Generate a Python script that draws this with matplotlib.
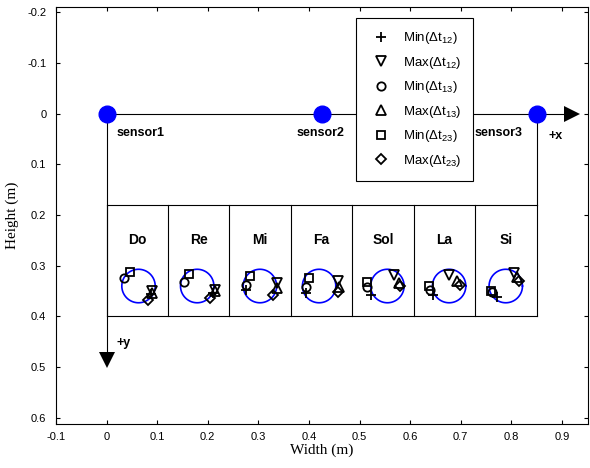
import numpy as np
import matplotlib
matplotlib.use("Agg")
import matplotlib.pyplot as plt

plt.rcParams['font.family'] = ['Liberation Sans', 'DejaVu Sans']
plt.rcParams['mathtext.fontset'] = 'custom'
plt.rcParams['mathtext.rm'] = 'Liberation Sans'
plt.rcParams['mathtext.it'] = 'Liberation Sans:italic'

# ---------------------------------------------------
# Data (metres)
# ---------------------------------------------------
sensor_x = [0.0, 0.425, 0.85]
sensor_names = ['sensor1', 'sensor2', 'sensor3']
sensor_label_x = [0.02, 0.375, 0.727]

notes = ['Do', 'Re', 'Mi', 'Fa', 'Sol', 'La', 'Si']
circle_x = [0.063, 0.179, 0.303, 0.420, 0.555, 0.677, 0.789]
circle_y = 0.34
circle_r = 0.033

# marker positions per note
min12_x = [0.087, 0.211, 0.275, 0.395, 0.523, 0.646, 0.771]
min12_y = [0.356, 0.354, 0.347, 0.354, 0.358, 0.358, 0.362]
max12_x = [0.090, 0.215, 0.337, 0.457, 0.568, 0.676, 0.805]
max12_y = [0.349, 0.347, 0.335, 0.330, 0.319, 0.319, 0.314]
min13_x = [0.034, 0.152, 0.275, 0.395, 0.515, 0.639, 0.762]
min13_y = [0.324, 0.332, 0.337, 0.341, 0.342, 0.347, 0.352]
max13_x = [0.090, 0.215, 0.337, 0.459, 0.578, 0.693, 0.812]
max13_y = [0.354, 0.350, 0.343, 0.341, 0.334, 0.330, 0.323]
min23_x = [0.047, 0.163, 0.283, 0.400, 0.515, 0.637, 0.759]
min23_y = [0.312, 0.317, 0.321, 0.325, 0.332, 0.339, 0.350]
max23_x = [0.081, 0.204, 0.329, 0.457, 0.580, 0.698, 0.815]
max23_y = [0.368, 0.364, 0.358, 0.352, 0.339, 0.337, 0.330]

box_top, box_bottom = 0.18, 0.40
note_label_y = 0.25
arrow_x_end = 0.92
arrow_y_end = 0.485

# ---------------------------------------------------
# Plot
# ---------------------------------------------------
fig = plt.figure(figsize=(5.9, 4.68), dpi=100)
ax = fig.add_axes([0.095, 0.094, 0.902, 0.891])

lc = '#000000'
# axes arrows
ax.plot([0, arrow_x_end], [0, 0], color=lc, lw=0.8)
ax.plot([arrow_x_end], [0], marker='>', color='k', ms=12, mew=0)
ax.plot([0, 0], [0, arrow_y_end], color=lc, lw=0.8)
ax.plot([0], [arrow_y_end], marker='v', color='k', ms=12, mew=0)
ax.plot([sensor_x[2], sensor_x[2]], [0, box_top], color=lc, lw=0.8)

# note boxes
cell_w = sensor_x[2] / len(notes)
ax.plot([0, sensor_x[2]], [box_top, box_top], color=lc, lw=0.8)
ax.plot([0, sensor_x[2]], [box_bottom, box_bottom], color=lc, lw=0.8)
for i in range(len(notes) + 1):
    ax.plot([i * cell_w, i * cell_w], [box_top, box_bottom], color=lc, lw=0.8)
for i, n in enumerate(notes):
    ax.text((i + 0.5) * cell_w, note_label_y, n, ha='center', va='center',
            fontsize=10, fontweight='bold')

# circles
t = np.linspace(0, 2 * np.pi, 100)
for cx in circle_x:
    ax.plot(cx + circle_r * np.cos(t), circle_y + circle_r * np.sin(t),
            color='#0000ff', lw=1.2)

# sensors
ax.plot(sensor_x, [0, 0, 0], 'o', color='#0000ff', ms=12, zorder=5)
for name, lx in zip(sensor_names, sensor_label_x):
    ax.text(lx, 0.038, name, ha='left', va='center', fontsize=9, fontweight='bold')
ax.text(0.874, 0.045, '+x', ha='left', va='center', fontsize=9, fontweight='bold')
ax.text(0.02, 0.453, '+y', ha='left', va='center', fontsize=9, fontweight='bold')

# markers
mk = dict(linestyle='none', mfc='none', mec='k', mew=1.3, color='k')
ax.plot(min12_x, min12_y, marker='+', ms=7, label=r'Min($\Delta$t$_{12}$)', **mk)
ax.plot(max12_x, max12_y, marker='v', ms=6.5, label=r'Max($\Delta$t$_{12}$)', **mk)
ax.plot(min13_x, min13_y, marker='o', ms=6, label=r'Min($\Delta$t$_{13}$)', **mk)
ax.plot(max13_x, max13_y, marker='^', ms=6.5, label=r'Max($\Delta$t$_{13}$)', **mk)
ax.plot(min23_x, min23_y, marker='s', ms=6, label=r'Min($\Delta$t$_{23}$)', **mk)
ax.plot(max23_x, max23_y, marker='D', ms=5, label=r'Max($\Delta$t$_{23}$)', **mk)

leg = ax.legend(loc='upper left', bbox_to_anchor=(0.5635, 0.974), fontsize=9.5,
                frameon=True, fancybox=False, edgecolor='k', framealpha=1,
                handlelength=1.9, labelspacing=0.65, borderpad=0.93,
                handletextpad=0.7, borderaxespad=0)
leg.get_frame().set_linewidth(0.8)

ax.set_xlim(-0.1, 0.952)
ax.set_ylim(0.612, -0.21)
ax.set_xticks(np.arange(-0.1, 0.91, 0.1))
ax.set_xticklabels(['-0.1', '0', '0.1', '0.2', '0.3', '0.4', '0.5', '0.6', '0.7', '0.8', '0.9'])
ax.set_yticks(np.arange(-0.2, 0.61, 0.1))
ax.set_yticklabels(['-0.2', '-0.1', '0', '0.1', '0.2', '0.3', '0.4', '0.5', '0.6'])
ax.tick_params(direction='in', length=3, labelsize=8, top=True, right=True)
ax.tick_params(axis='x', pad=6)
ax.tick_params(axis='y', pad=7)
ax.set_xlabel('Width (m)', family='Liberation Serif', fontsize=11, labelpad=1)
ax.set_ylabel('Height (m)', family='Liberation Serif', fontsize=11, labelpad=6)

fig.savefig('out.png', dpi=100)
